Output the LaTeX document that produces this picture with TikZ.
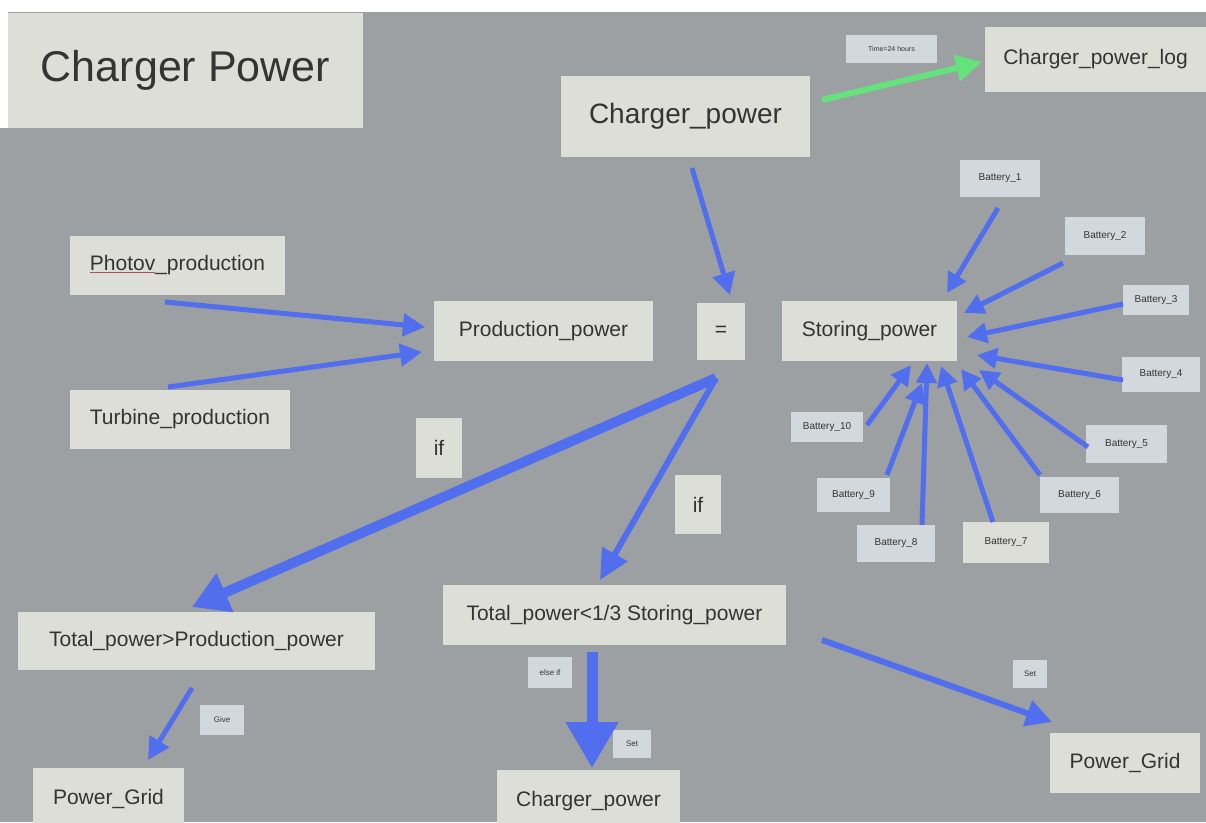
\documentclass[tikz,border=0pt]{standalone}
\usepackage{fontspec}
\setmainfont{Liberation Sans}
\usetikzlibrary{arrows.meta}
\definecolor{bg}{RGB}{156,160,162}
\definecolor{boxfill}{RGB}{221,222,216}
\definecolor{batfill}{RGB}{211,216,221}
\definecolor{flow}{RGB}{80,110,238}
\definecolor{logflow}{RGB}{100,226,124}
\definecolor{ink}{RGB}{52,52,52}
\definecolor{squig}{RGB}{170,80,80}
\begin{document}
\begin{tikzpicture}[x=1pt,y=-1pt,
  box/.style={fill=boxfill, text=ink, inner sep=0pt, align=center},
  batbox/.style={fill=batfill, text=ink, inner sep=0pt, font=\fontsize{10}{12}\selectfont},
  tag/.style={fill=batfill, text=ink, inner sep=0pt, font=\fontsize{8}{10}\selectfont},
  f21/.style={font=\fontsize{21}{25}\selectfont},
  flowarrow/.style={draw=flow, line width=5pt,
    -{Triangle[length=22pt,width=22pt]}},
]
% canvas
\useasboundingbox (0,0) rectangle (1206,822);
\clip (0,0) rectangle (1206,822);
\fill[white] (0,0) rectangle (1206,822);
\fill[bg] (0,12) rectangle (1206,822);
\fill[white] (0,12) rectangle (8,128);

% title
\node[box, minimum width=355pt, minimum height=115pt, font=\fontsize{43}{50}\selectfont]
  (title) at (185.5,70.5) {Charger Power};

% top row
\node[box, minimum width=249pt, minimum height=81pt, font=\fontsize{28}{32}\selectfont]
  (cp) at (685.5,116.5) {Charger\_power};
\node[box, minimum width=221pt, minimum height=65pt, f21]
  (log) at (1095.5,59.5) {Charger\_power\_log};
\node[tag, minimum width=91pt, minimum height=28pt, font=\fontsize{7}{8}\selectfont]
  (time) at (891.5,49) {Time=24 hours};

% production side
\node[box, minimum width=215pt, minimum height=59pt, f21]
  (photov) at (177.5,265.5) {{\color{squig}\underline{\textcolor{ink}{Photov}}}\_production};
\node[box, minimum width=220pt, minimum height=59pt, f21]
  (turbine) at (180,419.5) {Turbine\_production};
\node[box, minimum width=219pt, minimum height=60pt, f21]
  (prod) at (543.5,331) {Production\_power};
\node[box, minimum width=48pt, minimum height=57pt, f21]
  (eq) at (721,331.5) {=};
\node[box, minimum width=175pt, minimum height=60pt, f21]
  (stor) at (869.5,331) {Storing\_power};

% batteries
\node[batbox, minimum width=80pt, minimum height=37pt] (b1) at (1000,178.5) {Battery\_1};
\node[batbox, minimum width=80pt, minimum height=38pt] (b2) at (1105,236) {Battery\_2};
\node[batbox, minimum width=66pt, minimum height=30pt] (b3) at (1156,300) {Battery\_3};
\node[batbox, minimum width=78pt, minimum height=35pt] (b4) at (1161,374.5) {Battery\_4};
\node[batbox, minimum width=81pt, minimum height=38pt] (b5) at (1126.5,444) {Battery\_5};
\node[batbox, minimum width=79pt, minimum height=36pt] (b6) at (1079.5,495) {Battery\_6};
\node[batbox, minimum width=86pt, minimum height=41pt, fill=boxfill] (b7) at (1006,542.5) {Battery\_7};
\node[batbox, minimum width=78pt, minimum height=37pt] (b8) at (896,543.5) {Battery\_8};
\node[batbox, minimum width=73pt, minimum height=34pt] (b9) at (853.5,495) {Battery\_9};
\node[batbox, minimum width=72pt, minimum height=30pt] (b10) at (827,427) {Battery\_10};

% conditions
\node[box, minimum width=46pt, minimum height=60pt, f21] (if1) at (439,448) {if};
\node[box, minimum width=46pt, minimum height=59pt, f21] (if2) at (698,504.5) {if};
\node[box, minimum width=357pt, minimum height=58pt, f21]
  (tgp) at (196.5,641) {Total\_power>Production\_power};
\node[box, minimum width=343pt, minimum height=60pt, f21]
  (tls) at (614.5,615) {Total\_power<1/3 Storing\_power};

% outcomes
\node[box, minimum width=151pt, minimum height=62pt, f21] (pgl) at (108.5,799) {Power\_Grid};
\node[box, minimum width=183pt, minimum height=62pt, f21] (cpb) at (588.5,801) {Charger\_power};
\node[box, minimum width=150pt, minimum height=60pt, f21] (pgr) at (1125,763) {Power\_Grid};
\node[tag, minimum width=44pt, minimum height=30pt] (give) at (222,720) {Give};
\node[tag, minimum width=44pt, minimum height=31pt] (elseif) at (550,672.5) {else if};
\node[tag, minimum width=38pt, minimum height=28pt] (set1) at (632,744) {Set};
\node[tag, minimum width=34pt, minimum height=28pt] (set2) at (1030,674) {Set};

% connector ends
\coordinate (cpS)  at (822,100);  \coordinate (logT) at (982,62);
\coordinate (cpD)  at (692,168);  \coordinate (eqT)  at (730,295);
\coordinate (phS)  at (165,302);  \coordinate (prT1) at (425,327);
\coordinate (tuS)  at (168,387);  \coordinate (prT2) at (422,352);
\coordinate (eqS)  at (716,378);
\coordinate (tgpT) at (192,607);  \coordinate (tlsT) at (600,580);
\coordinate (tgpS) at (192,688);  \coordinate (pglT) at (148,760);
\coordinate (tlsS) at (592,652);  \coordinate (cpbT) at (592,768);
\coordinate (tlsR) at (822,640);  \coordinate (pgrT) at (1052,722);
\coordinate (b1S) at (998,208);   \coordinate (b1T) at (947,293);
\coordinate (b2S) at (1063,263);  \coordinate (b2T) at (964,313);
\coordinate (b3S) at (1123,304);  \coordinate (b3T) at (967,337);
\coordinate (b4S) at (1123,380);  \coordinate (b4T) at (977,355);
\coordinate (b5S) at (1088,447);  \coordinate (b5T) at (979,370);
\coordinate (b6S) at (1040,475);  \coordinate (b6T) at (961,369);
\coordinate (b7S) at (993,522);   \coordinate (b7T) at (941,366);
\coordinate (b8S) at (922,525);   \coordinate (b8T) at (927,363);
\coordinate (b9S) at (887,475);   \coordinate (b9T) at (922,383);
\coordinate (b10S) at (867,425);  \coordinate (b10T) at (911,365);

% connectors
\draw[flowarrow, draw=logflow, line width=6pt,
  -{Triangle[length=26pt,width=26pt]}] (cpS) -- (logT);
\draw[flowarrow] (cpD) -- (eqT);
\draw[flowarrow] (phS) -- (prT1);
\draw[flowarrow] (tuS) -- (prT2);
\draw[flowarrow, line width=10pt, -{Triangle[length=36pt,width=40pt]}] (eqS) -- (tgpT);
\draw[flowarrow, line width=6pt, -{Triangle[length=30pt,width=28pt]}] (eqS) -- (tlsT);
\draw[flowarrow] (tgpS) -- (pglT);
\draw[flowarrow, line width=11pt, -{Triangle[length=46pt,width=50pt]}] (tlsS) -- (cpbT);
\draw[flowarrow, line width=6pt, -{Triangle[length=26pt,width=26pt]}] (tlsR) -- (pgrT);
\foreach \b in {b1,b2,b3,b4,b5,b6,b7,b8,b9,b10}
  \draw[flowarrow, -{Triangle[length=20pt,width=20pt]}] (\b S) -- (\b T);
\end{tikzpicture}
\end{document}
